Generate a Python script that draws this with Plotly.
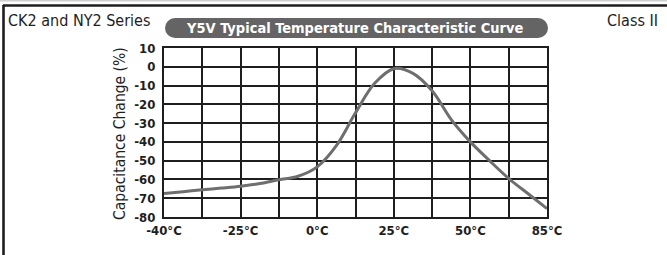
import plotly.graph_objects as go

# ---- data ----
x_ticklabels = ["-40°C", "", "-25°C", "", "0°C", "", "25°C", "", "50°C", "", "85°C"]
y_ticks = [10, 0, -10, -20, -30, -40, -50, -60, -70, -80]
curve_x = [0, 0.5, 1, 1.5, 2, 2.5, 3, 3.5, 4, 4.5, 5, 5.5, 6, 6.5, 7, 7.5, 8, 8.5, 9, 9.5, 10]
curve_y = [-67.5, -66.5, -65.5, -64.6, -63.6, -62.2, -60.2, -58.3, -53.3, -42.0, -24.5, -8.8, -1.0, -3.5,
           -12.8, -28.1, -40.0, -50.0, -59.5, -67.5, -75.5]

W, H = 667, 255
L, R, T, B = 164, 547, 48, 217

def px(x):
    return (x - L) / (R - L)

def py(y):
    return (B - y) / (B - T)

NARROW = "DejaVu Sans Condensed, Liberation Sans Narrow, sans-serif"
DARK = "#1e1e1e"

fig = go.Figure()
fig.add_trace(go.Scatter(
    x=curve_x, y=curve_y, mode="lines",
    line=dict(color="#6e6e6e", width=3, shape="spline", smoothing=1.0),
    hoverinfo="skip", showlegend=False,
))

fig.update_layout(
    width=W, height=H,
    margin=dict(l=L, r=W - R, t=T, b=H - B),
    paper_bgcolor="white", plot_bgcolor="white",
    font=dict(family=NARROW, color=DARK),
    showlegend=False,
    xaxis=dict(
        range=[0, 10], tickmode="array", tickvals=list(range(11)), ticktext=x_ticklabels,
        showgrid=True, gridcolor=DARK, gridwidth=1.6, zeroline=False,
        showline=True, linecolor=DARK, linewidth=2, mirror=True,
        ticks="", ticklabelstandoff=0, tickfont=dict(family=NARROW, size=13, color=DARK, weight="bold"),
        fixedrange=True,
    ),
    yaxis=dict(
        range=[-80, 10], tickmode="array", tickvals=y_ticks, ticktext=[str(v) for v in y_ticks],
        showgrid=True, gridcolor=DARK, gridwidth=1.6, zeroline=False,
        showline=True, linecolor=DARK, linewidth=2, mirror=True,
        ticks="", ticklabelstandoff=4, tickfont=dict(family=NARROW, size=13, color=DARK, weight="bold"),
        fixedrange=True,
    ),
)

shapes = []
# faint top line and outer frame
shapes.append(dict(type="line", xref="paper", yref="paper", x0=px(0), x1=px(W), y0=py(0.7), y1=py(0.7),
                   line=dict(color="#cfcfcf", width=1.5)))
shapes.append(dict(type="line", xref="paper", yref="paper", x0=px(3), x1=px(W), y0=py(5.5), y1=py(5.5),
                   line=dict(color=DARK, width=2.6)))
shapes.append(dict(type="line", xref="paper", yref="paper", x0=px(3.5), x1=px(3.5), y0=py(5), y1=py(H),
                   line=dict(color=DARK, width=2.6)))
# title pill
pl, pr, pt, pb = 165, 548, 18, 38
r = (pb - pt) / 2
pill_color = "#646464"
shapes.append(dict(type="rect", xref="paper", yref="paper", x0=px(pl + r), x1=px(pr - r), y0=py(pb), y1=py(pt),
                   fillcolor=pill_color, line=dict(width=0)))
shapes.append(dict(type="circle", xref="paper", yref="paper", x0=px(pl), x1=px(pl + 2 * r), y0=py(pb), y1=py(pt),
                   fillcolor=pill_color, line=dict(width=0)))
shapes.append(dict(type="circle", xref="paper", yref="paper", x0=px(pr - 2 * r), x1=px(pr), y0=py(pb), y1=py(pt),
                   fillcolor=pill_color, line=dict(width=0)))
fig.update_layout(shapes=shapes)

fig.add_annotation(xref="paper", yref="paper", x=px((pl + pr) / 2 - 2), y=py((pt + pb) / 2),
                   text="<b>Y5V Typical Temperature Characteristic Curve</b>", showarrow=False,
                   xanchor="center", yanchor="middle",
                   font=dict(family=NARROW, size=14.5, color="white"))
fig.add_annotation(xref="paper", yref="paper", x=px(6), y=py(20), text="CK2 and NY2 Series",
                   showarrow=False, xanchor="left", yanchor="middle",
                   font=dict(family=NARROW, size=16, color=DARK))
fig.add_annotation(xref="paper", yref="paper", x=px(660), y=py(20), text="Class II",
                   showarrow=False, xanchor="right", yanchor="middle",
                   font=dict(family=NARROW, size=16, color=DARK))
fig.add_annotation(xref="paper", yref="paper", x=px(120), y=py(134), text="Capacitance Change (%)",
                   showarrow=False, xanchor="center", yanchor="middle", textangle=-90,
                   font=dict(family=NARROW, size=15.5, color=DARK))

fig.write_html("out.html", config={"displayModeBar": False},
               post_script="document.body.style.margin='0';document.body.style.padding='0';")
